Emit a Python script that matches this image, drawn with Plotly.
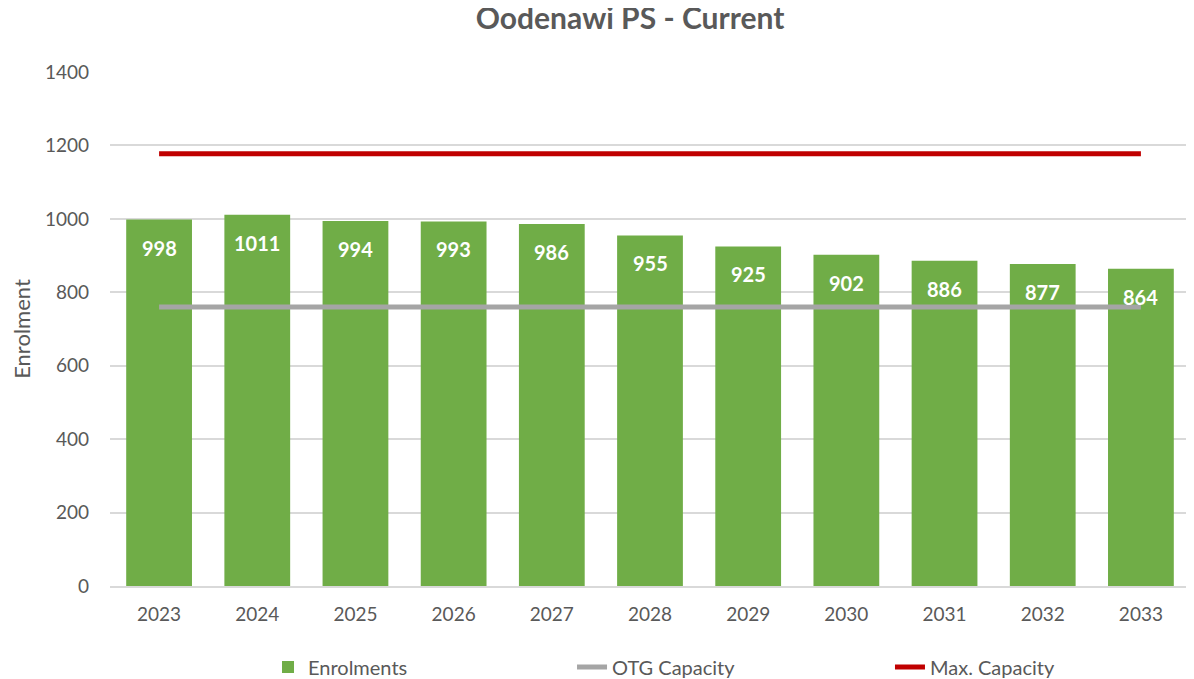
import plotly.graph_objects as go

years = ["2023", "2024", "2025", "2026", "2027", "2028", "2029", "2030", "2031", "2032", "2033"]
enrolments = [998, 1011, 994, 993, 986, 955, 925, 902, 886, 877, 864]
otg_capacity = [760] * 11
max_capacity = [1177] * 11

font_family = "Lato, 'Open Sans', sans-serif"

fig = go.Figure()
fig.add_trace(go.Bar(
    x=years, y=enrolments, name="Enrolments",
    marker=dict(color="#70AD47", line=dict(width=0)),
    width=0.67, legend="legend",
))
fig.add_trace(go.Scatter(
    x=years, y=otg_capacity, name="OTG Capacity", mode="lines",
    line=dict(color="#A5A5A5", width=5), legend="legend2",
))
fig.add_trace(go.Scatter(
    x=years, y=max_capacity, name="Max. Capacity", mode="lines",
    line=dict(color="#C00000", width=5), legend="legend3",
))

for i, v in enumerate(enrolments):
    fig.add_annotation(x=i, y=v, xref="x", yref="y", text=f"<b>{v}</b>",
                       showarrow=False, yanchor="middle", yshift=-28,
                       font=dict(color="white", size=20, family=font_family))

leg_common = dict(orientation="h", xanchor="left", y=-0.1576, yanchor="middle",
                  font=dict(size=20, color="#595959"), bgcolor="rgba(0,0,0,0)")

# page body adds an 8px offset, so the figure is 8px smaller on each axis
fig.update_layout(
    width=1186, height=671,
    paper_bgcolor="white", plot_bgcolor="white",
    margin=dict(l=102, r=4, t=64, b=93, autoexpand=False),
    title=dict(text="<b>Oodenawi PS - Current</b>", x=0.5245, xanchor="center",
               y=1.0, yanchor="top", pad=dict(t=0, b=0),
               font=dict(size=30, color="#595959", family=font_family)),
    font=dict(family=font_family, color="#595959", size=16),
    showlegend=True,
    legend=dict(x=0.1463, **leg_common),
    legend2=dict(x=0.4278, **leg_common),
    legend3=dict(x=0.7222, **leg_common),
    bargap=0.33,
)
fig.update_yaxes(range=[0, 1400], dtick=200, showgrid=True, gridcolor="#D9D9D9",
                 gridwidth=1.5, zeroline=False, showline=False, automargin=False,
                 title=dict(text="Enrolment", font=dict(size=22, color="#595959"), standoff=10),
                 tickfont=dict(size=19, color="#595959"), ticks="", ticklabelstandoff=20)
fig.update_xaxes(type="category", showline=True, linecolor="#D9D9D9", linewidth=1.5,
                 showgrid=False, tickfont=dict(size=19, color="#595959"), ticks="",
                 ticklabelstandoff=10, automargin=False)

fig.write_html("out.html")
